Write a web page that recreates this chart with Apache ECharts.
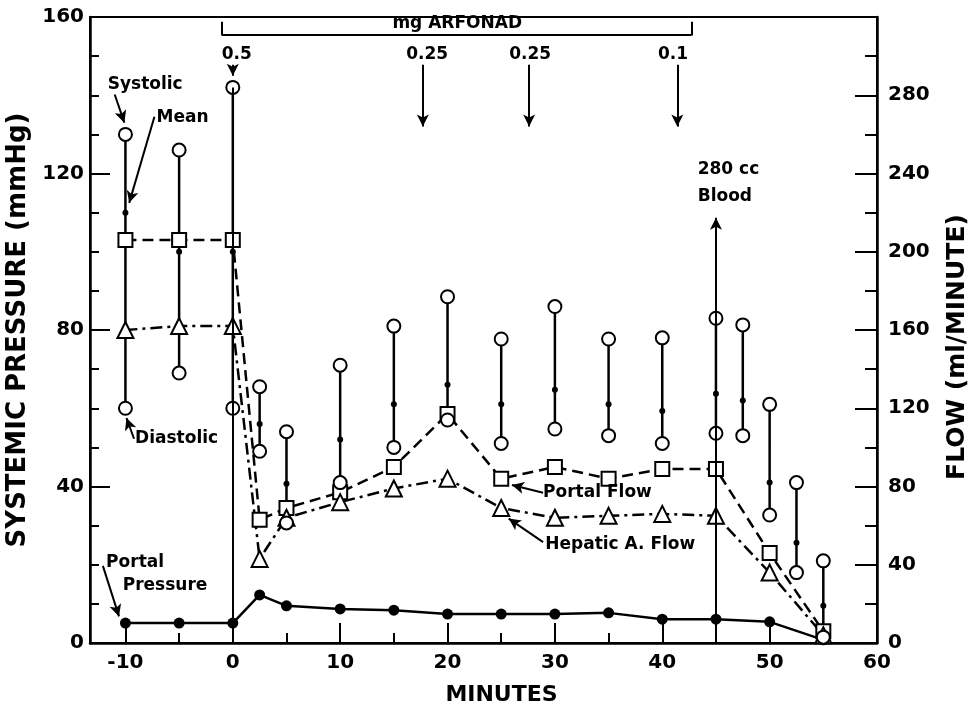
<!DOCTYPE html>
<html>
<head>
<meta charset="utf-8">
<title>Arfonad</title>
<script src="https://cdn.jsdelivr.net/npm/echarts@6/dist/echarts.min.js"></script>
<style>
  html, body { margin: 0; padding: 0; background: #fff; }
  #chart { width: 973px; height: 709px; }
</style>
</head>
<body>
<div id="chart"></div>
<script>
// blood pressure readings (mmHg)
var bpMinutes = [-10, -5, 0, 2.5, 5, 10, 15, 20, 25, 30, 35, 40, 45, 47.5, 50, 52.5, 55];
var systolic  = [130, 126, 142, 65.5, 54, 71, 81, 88.5, 77.7, 86, 77.7, 78, 83, 81.3, 61, 41, 21];
var meanBP    = [110, 100, 100, 56, 40.7, 52, 61, 66, 61, 64.7, 61, 59.3, 63.7, 62, 41, 25.6, 9.5];
var diastolic = [60, 69, 60, 49, 30.7, 41, 50, 57, 51, 54.7, 53, 51, 53.6, 53, 32.7, 18, 1.5];

// flows (ml/minute) and portal pressure (mmHg)
var flowMinutes    = [-10, -5, 0, 2.5, 5, 10, 15, 20, 25, 30, 35, 40, 45, 50, 55];
var portalFlow     = [206, 206, 206, 63, 69, 77, 90, 117, 84, 90, 84, 89, 89, 46, 6];
var hepaticFlow    = [160, 162, 162, 43, 64, 72, 79, 84, 69, 64, 65, 66, 65, 36, 4];
var portalPressure = [5.1, 5.1, 5.1, 12.3, 9.5, 8.7, 8.4, 7.4, 7.4, 7.4, 7.7, 6.1, 6.1, 5.4, 0.8];

// arfonad doses
var doseMinutes = [0, 17.7, 27.6, 41.4];
var doseLabels  = ['0.5', '0.25', '0.25', '0.1'];

var majorX = [-10, 0, 10, 20, 30, 40, 50, 60];
var minorX = [-5, 5, 15, 25, 35, 45, 55];

var FONT = 'DejaVu Sans';

function pairs(xs, ys) {
  return xs.map(function (x, i) { return [x, ys[i]]; });
}

// vertical systolic-diastolic bars, broken with '-'
var bars = [];
bpMinutes.forEach(function (t, i) {
  bars.push([t, systolic[i]], [t, diastolic[i]], '-');
});

var chart = echarts.init(document.getElementById('chart'));

function seg(a, b, opts) {
  var s = [{ coord: a }, { coord: b }];
  if (opts) s[0].lineStyle = opts;
  return s;
}

var arrowLines = [
  seg([0, 0], [0, systolic[2]]),
  seg([-1.0, 155.5], [42.7, 155.5]),
  seg([-1.0, 155.3], [-1.0, 158.8]),
  seg([42.7, 155.3], [42.7, 158.8])
];
var arrowHeads = [
  seg([45, 0], [45, 108.7]),
  seg([doseMinutes[0], 147.8], [doseMinutes[0], 145]),
  seg([doseMinutes[1], 147.8], [doseMinutes[1], 132]),
  seg([doseMinutes[2], 147.8], [doseMinutes[2], 132]),
  seg([doseMinutes[3], 147.8], [doseMinutes[3], 132]),
  seg([-11.0, 140.2], [-10.1, 133], { curveness: 0.25 }),
  seg([-7.3, 134.5], [-9.65, 112.5], { curveness: 0.3 }),
  seg([-9.2, 52.2], [-9.9, 57.5], { curveness: -0.4 }),
  seg([-12.1, 19.7], [-10.6, 6.8], { curveness: 0.3 }),
  seg([28.9, 38.4], [26.0, 40.4], { curveness: -0.2 }),
  seg([28.9, 25.8], [25.7, 31.8], { curveness: -0.2 })
];

// text notes: [x, y, text, align]
var notes = [
  [20.9, 158.3, 'mg ARFONAD', 'center'],
  [-11.65, 142.7, 'Systolic', 'left'],
  [-7.1, 134.3, 'Mean', 'left'],
  [-9.1, 52.2, 'Diastolic', 'left'],
  [-11.8, 20.5, 'Portal', 'left'],
  [-10.25, 14.8, 'Pressure', 'left'],
  [28.9, 38.4, 'Portal Flow', 'left'],
  [29.1, 25.1, 'Hepatic A. Flow', 'left'],
  [43.3, 121, '280 cc', 'left'],
  [43.3, 114, 'Blood', 'left']
];
var doseX = [0.37, 18.1, 27.7, 41.0];
doseLabels.forEach(function (d, i) {
  notes.push([doseX[i], 150.4, d, 'center']);
});

var tickFont = { fontFamily: FONT, fontSize: 20, fontWeight: 'bold', color: '#000' };

var option = {
  animation: false,
  backgroundColor: '#fff',
  textStyle: { fontFamily: FONT, color: '#000' },
  grid: {
    left: 90, right: 96, top: 17, bottom: 66, outerBoundsMode: 'none',
    show: true, borderColor: '#000', borderWidth: 2, backgroundColor: 'transparent'
  },
  xAxis: [{
    type: 'value', min: -13.3, max: 60, position: 'bottom',
    name: 'MINUTES', nameLocation: 'middle', nameGap: 41,
    nameTextStyle: { fontFamily: FONT, fontSize: 22, fontWeight: 'bold', color: '#000', padding: [0, 0, 0, 36] },
    axisLine: { onZero: false, lineStyle: { color: '#000', width: 2.5 } },
    axisTick: { inside: true, length: 20, customValues: majorX, lineStyle: { color: '#000', width: 2 } },
    axisLabel: Object.assign({ customValues: majorX, margin: 10 }, tickFont),
    splitLine: { show: false }
  }, {
    type: 'value', min: -13.3, max: 60, position: 'bottom',
    axisLine: { show: false, onZero: false },
    axisTick: { inside: true, length: 10, customValues: minorX, lineStyle: { color: '#000', width: 2 } },
    axisLabel: { show: false },
    splitLine: { show: false }
  }],
  yAxis: [{
    type: 'value', min: 0, max: 160, interval: 40, position: 'left',
    name: 'SYSTEMIC PRESSURE (mmHg)', nameLocation: 'middle', nameGap: 53, nameRotate: 90,
    nameTextStyle: { fontFamily: FONT, fontSize: 26, fontWeight: 'bold', color: '#000' },
    axisLine: { show: true, onZero: false, lineStyle: { color: '#000', width: 2.5 } },
    axisTick: { inside: true, length: 20, lineStyle: { color: '#000', width: 2 } },
    minorTick: { show: true, splitNumber: 4, length: 9, lineStyle: { color: '#000', width: 2 } },
    axisLabel: Object.assign({ margin: 6 }, tickFont),
    splitLine: { show: false }
  }, {
    type: 'value', min: 0, max: 320, interval: 40, position: 'right',
    name: 'FLOW (ml/MINUTE)', nameLocation: 'middle', nameGap: 68, nameRotate: 90,
    nameTextStyle: { fontFamily: FONT, fontSize: 25, fontWeight: 'bold', color: '#000', padding: [0, 34, 0, 0] },
    axisLine: { show: true, onZero: false, lineStyle: { color: '#000', width: 2.5 } },
    axisTick: { inside: true, length: 22, lineStyle: { color: '#000', width: 2 } },
    minorTick: { show: true, splitNumber: 2, length: 12, lineStyle: { color: '#000', width: 2 } },
    axisLabel: Object.assign({
      margin: 11,
      formatter: function (v) { return v >= 320 ? '' : v; }
    }, tickFont),
    splitLine: { show: false }
  }],
  series: [{
    name: 'range', type: 'line', data: bars, symbol: 'none',
    lineStyle: { color: '#000', width: 2.5 },
    markLine: {
      silent: true, symbol: ['none', 'none'], label: { show: false },
      lineStyle: { color: '#000', width: 2, type: 'solid' },
      data: arrowLines
    }
  }, {
    name: 'arrows', type: 'line', data: [],
    markLine: {
      silent: true, symbol: ['none', 'arrow'], symbolSize: [9, 12], label: { show: false },
      lineStyle: { color: '#000', width: 2, type: 'solid' },
      data: arrowHeads
    }
  }, {
    name: 'Portal Pressure', type: 'line', data: pairs(flowMinutes, portalPressure),
    symbol: 'circle', symbolSize: 11,
    lineStyle: { color: '#000', width: 2.5 },
    itemStyle: { color: '#000' }, z: 3
  }, {
    name: 'Portal Flow', type: 'line', yAxisIndex: 1, data: pairs(flowMinutes, portalFlow),
    symbol: 'rect', symbolSize: 14,
    lineStyle: { color: '#000', width: 2.5, type: [11, 6] },
    itemStyle: { color: '#fff', borderColor: '#000', borderWidth: 2 }, z: 3
  }, {
    name: 'Hepatic A. Flow', type: 'line', yAxisIndex: 1, data: pairs(flowMinutes, hepaticFlow),
    symbol: 'triangle', symbolSize: 16,
    lineStyle: { color: '#000', width: 2.5, type: [12, 5, 3, 5] },
    itemStyle: { color: '#fff', borderColor: '#000', borderWidth: 2 }, z: 3
  }, {
    name: 'Systolic', type: 'scatter', data: pairs(bpMinutes, systolic),
    symbol: 'circle', symbolSize: 13,
    itemStyle: { color: '#fff', borderColor: '#000', borderWidth: 2, opacity: 1 }, z: 4
  }, {
    name: 'Diastolic', type: 'scatter', data: pairs(bpMinutes, diastolic),
    symbol: 'circle', symbolSize: 13,
    itemStyle: { color: '#fff', borderColor: '#000', borderWidth: 2, opacity: 1 }, z: 4
  }, {
    name: 'Mean', type: 'scatter', data: pairs(bpMinutes, meanBP),
    symbol: 'circle', symbolSize: 6,
    itemStyle: { color: '#000', opacity: 1 }, z: 5
  }, {
    name: 'notes', type: 'custom', silent: true, z: 6,
    data: notes.map(function (n) { return [n[0], n[1]]; }),
    renderItem: function (params, api) {
      var n = notes[params.dataIndex];
      var p = api.coord([api.value(0), api.value(1)]);
      return {
        type: 'text', x: p[0], y: p[1],
        style: {
          text: n[2], fill: '#000', align: n[3], verticalAlign: 'middle',
          fontFamily: FONT, fontSize: 17, fontWeight: 'bold'
        }
      };
    }
  }]
};

chart.setOption(option);
</script>
</body>
</html>
